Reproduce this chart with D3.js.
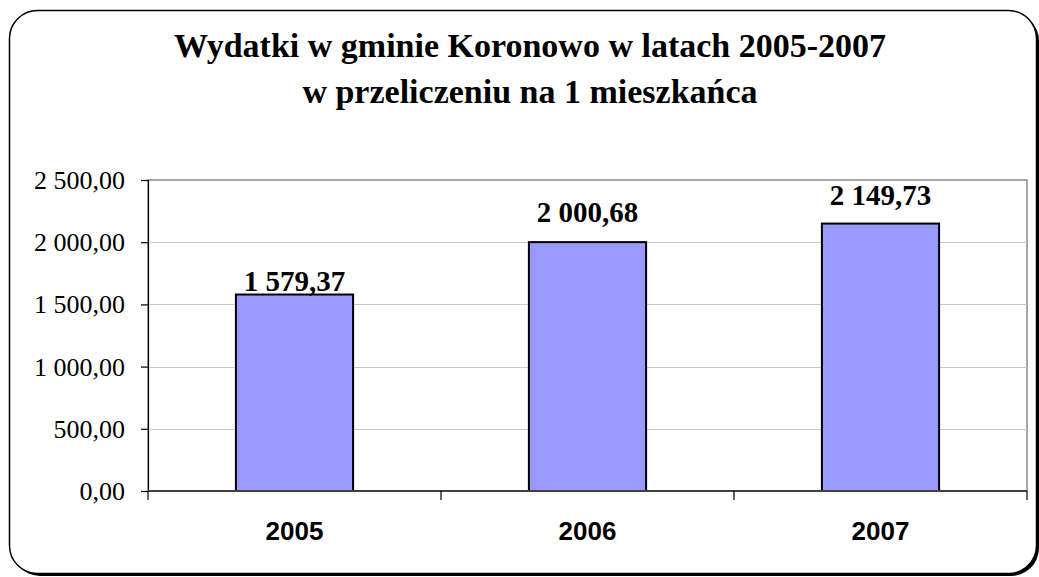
<!DOCTYPE html>
<html><head><meta charset="utf-8">
<script src="https://cdn.jsdelivr.net/npm/d3@7"></script>
<style>body{margin:0;background:#fff}svg{display:block}</style>
</head><body>
<script>
const years = ["2005", "2006", "2007"];
const values = [1579.37, 2000.68, 2149.73];
const yTicks = [0, 500, 1000, 1500, 2000, 2500];
const titleLines = ["Wydatki w gminie Koronowo w latach 2005-2007", "w przeliczeniu na 1 mieszkańca"];

const W = 1039, H = 577;
const plot = {left: 148, right: 1027, top: 180, bottom: 491};
const svg = d3.select("body").append("svg").attr("width", W).attr("height", H);

// outer frame with shadow
svg.append("rect").attr("x", 12).attr("y", 13).attr("width", 1027).attr("height", 563)
  .attr("rx", 28).attr("fill", "#000");
svg.append("rect").attr("x", 9.5).attr("y", 10.5).attr("width", 1027).attr("height", 563)
  .attr("rx", 28).attr("fill", "#fff").attr("stroke", "#000").attr("stroke-width", 1.5);

const fmt = v => {
  const s = d3.format(",.2f")(v);
  return s.replace(/,/g, " ").replace(".", ",");
};

const x = d3.scaleBand().domain(years).range([plot.left, plot.right]).paddingInner(0.6).paddingOuter(0.3);
const xb = d3.scaleBand().domain(years).range([plot.left, plot.right]);
const y = d3.scaleLinear().domain([0, 2500]).range([plot.bottom, plot.top]);

// plot border (top/right)
svg.append("rect").attr("x", plot.left).attr("y", plot.top)
  .attr("width", plot.right - plot.left).attr("height", plot.bottom - plot.top)
  .attr("fill", "none").attr("stroke", "#8c8c8c").attr("stroke-width", 1.5);

// gridlines
svg.append("g").selectAll("line").data(yTicks.filter(t => t > 0 && t < 2500)).join("line")
  .attr("x1", plot.left).attr("x2", plot.right)
  .attr("y1", d => Math.round(y(d)) + 0.5).attr("y2", d => Math.round(y(d)) + 0.5)
  .attr("stroke", "#c8c8c8").attr("stroke-width", 1);

// y axis
const yAxis = d3.axisLeft(y).tickValues(yTicks).tickSize(7).tickPadding(16).tickFormat(fmt);
const gy = svg.append("g").attr("transform", `translate(${plot.left},0)`).call(yAxis);
gy.select(".domain").attr("stroke", "#000").attr("stroke-width", 1.2);
gy.selectAll(".tick line").attr("stroke", "#000").attr("stroke-width", 1.2);
gy.selectAll(".tick text").attr("font-family", "'Liberation Serif', 'Times New Roman', serif")
  .attr("font-size", 26).attr("fill", "#000").attr("dy", "0.33em");

// bars
svg.append("g").selectAll("rect").data(years).join("rect")
  .attr("x", d => x(d)).attr("width", x.bandwidth())
  .attr("y", (d, i) => y(values[i])).attr("height", (d, i) => y(0) - y(values[i]))
  .attr("fill", "#9999ff").attr("stroke", "#000").attr("stroke-width", 2);

// x axis
const gx = svg.append("g").attr("transform", `translate(0,${plot.bottom})`);
gx.append("line").attr("x1", plot.left).attr("x2", plot.right).attr("y1", 0).attr("y2", 0)
  .attr("stroke", "#404040").attr("stroke-width", 2);
const bounds = years.map(d => xb(d)).concat([plot.right]);
gx.selectAll("line.tk").data(bounds).join("line").attr("class", "tk")
  .attr("x1", d => d).attr("x2", d => d).attr("y1", 0).attr("y2", 9)
  .attr("stroke", "#000").attr("stroke-width", 1.2);
gx.selectAll("text").data(years).join("text")
  .attr("x", d => xb(d) + xb.bandwidth() / 2).attr("y", 49)
  .attr("text-anchor", "middle").attr("font-family", "'Liberation Sans', Arial, sans-serif")
  .attr("font-weight", "bold").attr("font-size", 26).text(d => d);

// data labels
const labelLift = [4, 20, 19];
svg.append("g").selectAll("text").data(years).join("text")
  .attr("x", d => x(d) + x.bandwidth() / 2)
  .attr("y", (d, i) => y(values[i]) - labelLift[i])
  .attr("text-anchor", "middle").attr("font-family", "'Liberation Serif', 'Times New Roman', serif")
  .attr("font-weight", "bold").attr("font-size", 29).text((d, i) => fmt(values[i]));

// title
svg.append("g").selectAll("text").data(titleLines).join("text")
  .attr("x", 530).attr("y", (d, i) => 57 + i * 46)
  .attr("text-anchor", "middle").attr("font-family", "'Liberation Serif', 'Times New Roman', serif")
  .attr("font-weight", "bold").attr("font-size", 34).text(d => d);
</script>
</body></html>
